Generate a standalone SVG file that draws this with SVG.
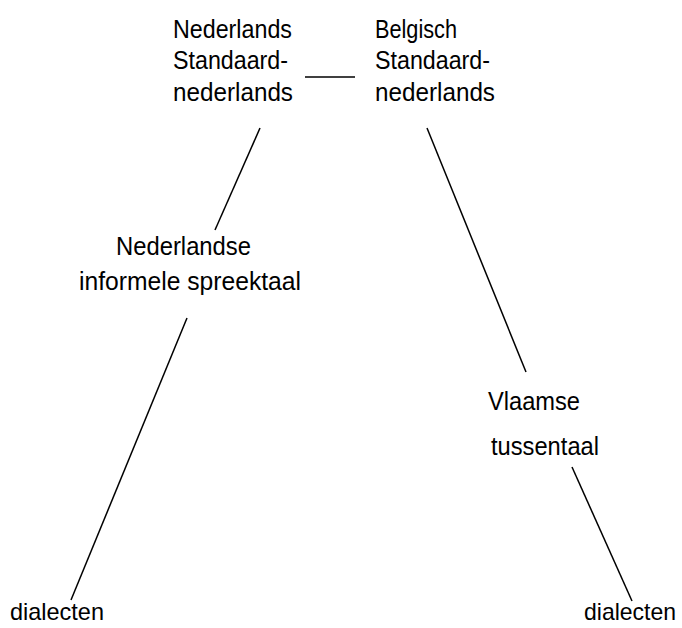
<svg xmlns="http://www.w3.org/2000/svg" width="682" height="628" viewBox="0 0 682 628">
<style>
text{font-family:"Liberation Sans",Arial,sans-serif;font-size:25px;fill:#000}
.c line{stroke:#000;stroke-width:1.5;fill:none}
.b{font-size:24px}
</style>
<rect width="682" height="628" fill="#fff"/>
<g class="c" id="connectors">
<line x1="305" y1="77" x2="355" y2="77"/>
<line x1="260" y1="128" x2="215" y2="230"/>
<line x1="187" y1="318" x2="71" y2="600"/>
<line x1="427" y1="128" x2="526" y2="372"/>
<line x1="572" y1="467" x2="632" y2="601"/>
</g>
<g id="nl-standaard">
<text x="173" y="38" textLength="119" lengthAdjust="spacingAndGlyphs">Nederlands</text>
<text x="173" y="69" textLength="115" lengthAdjust="spacingAndGlyphs">Standaard-</text>
<text x="173" y="101" textLength="120" lengthAdjust="spacingAndGlyphs">nederlands</text>
</g>
<g id="be-standaard">
<text x="375" y="38" textLength="82" lengthAdjust="spacingAndGlyphs">Belgisch</text>
<text x="375" y="69" textLength="115" lengthAdjust="spacingAndGlyphs">Standaard-</text>
<text x="375" y="101" textLength="120" lengthAdjust="spacingAndGlyphs">nederlands</text>
</g>
<g id="nl-informeel">
<text x="116" y="255" textLength="135" lengthAdjust="spacingAndGlyphs">Nederlandse</text>
<text x="79" y="290" textLength="222" lengthAdjust="spacingAndGlyphs">informele spreektaal</text>
</g>
<g id="tussentaal">
<text x="488" y="410" textLength="92" lengthAdjust="spacingAndGlyphs">Vlaamse</text>
<text x="491" y="455" textLength="108" lengthAdjust="spacingAndGlyphs">tussentaal</text>
</g>
<g id="dialecten-nl">
<text class="b" x="10" y="620" textLength="94" lengthAdjust="spacingAndGlyphs">dialecten</text>
</g>
<g id="dialecten-be">
<text class="b" x="584" y="620" textLength="92" lengthAdjust="spacingAndGlyphs">dialecten</text>
</g>
</svg>
